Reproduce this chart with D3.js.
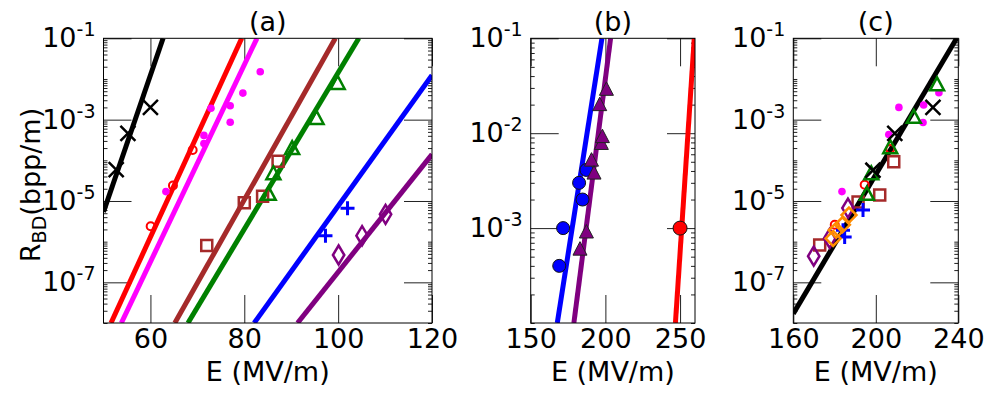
<!DOCTYPE html>
<html>
<head>
<meta charset="utf-8">
<script src="https://cdn.jsdelivr.net/npm/d3@7"></script>
<style>
  body { margin: 0; background: #fff; }
  svg text { font-family: "DejaVu Sans", sans-serif; fill: #000; }
</style>
</head>
<body>
<div id="chart"></div>
<script>
// ---- tick values ----
const aXTicks = [60, 80, 100, 120];
const bXTicks = [150, 200, 250];
const cXTicks = [160, 200, 240];
const aYTicks = [1e-1, 1e-3, 1e-5, 1e-7];
const bYTicks = [1e-1, 1e-2, 1e-3];
const cYTicks = [1e-1, 1e-3, 1e-5, 1e-7];

// ---- panel (a): fits (end points) and measurements [E, R] ----
const aFitBlack = [[50, 5.4e-6], [62.7, 1e-1]];
const aFitRed = [[51.6, 1e-8], [79.45, 1e-1]];
const aFitMagenta = [[53.8, 1e-8], [82.7, 1e-1]];
const aFitBrown = [[65.2, 1e-8], [99.4, 1e-1]];
const aFitGreen = [[68.0, 1e-8], [104.4, 1e-1]];
const aFitBlue = [[82.1, 1e-8], [120, 1.23e-2]];
const aFitPurple = [[91.35, 1e-8], [120, 1.4e-4]];

const aBlackCross = [[52.7, 5.9e-5], [55.2, 4.6e-4], [60, 2.0e-3]];
const aRedCircle = [[60.05, 2.4e-6], [64.8, 2.4e-5], [69, 1.8e-4]];
const aMagentaDot = [[63.3, 1.7e-5], [71.4, 4.1e-4], [71.4, 2.6e-4], [72.9, 1.9e-3],
                     [77, 2.2e-3], [77, 8.6e-4], [79.7, 4.5e-3], [83.4, 1.5e-2]];
const aBrownSquare = [[72, 8.1e-7], [80, 9.1e-6], [83.9, 1.3e-5], [87.2, 9.5e-5]];
const aGreenTri = [[85.2, 1.5e-5], [86.2, 4.8e-5], [90.2, 2.0e-4], [95.4, 1.1e-3], [99.9, 8e-3]];
const aBluePlus = [[97.3, 1.4e-6], [102, 6.6e-6]];
const aPurpleDiamond = [[100.1, 4.7e-7], [105.1, 1.4e-6], [110.1, 4.7e-6]];

// ---- panel (b) ----
const bFitBlue = [[167.8, 1e-4], [197.7, 1e-1]];
const bFitPurple = [[178.9, 1e-4], [203.5, 1e-1]];
const bFitRed = [[246.9, 1e-4], [259.5, 1e-1]];

const bBlueDot = [[169.1, 4e-4], [171.7, 1e-3], [182.4, 3e-3], [184.7, 2e-3], [187.3, 4.1e-3]];
const bPurpleTri = [[183, 6e-4], [187.3, 9.1e-4], [190.7, 5.2e-3], [192.4, 3.8e-3],
                    [197.3, 7.8e-3], [198, 9.2e-3], [196.2, 2e-2], [200.7, 2.9e-2]];
const bRedDot = [[250, 1e-3]];

// ---- panel (c) ----
const cFitBlack = [[160, 1.7e-8], [239.2, 1e-1]];

const cBlackCross = [[227.7, 2.0e-3], [209.2, 4.6e-4], [198.6, 5.7e-5]];
const cGreenTri = [[229.7, 7.4e-3], [218.4, 1.17e-3], [207, 2.1e-4], [197.8, 4.8e-5], [195.7, 1.5e-5]];
const cMagentaDot = [[230.6, 4.6e-3], [211.2, 2.0e-3], [223.2, 2.3e-3], [222.9, 8.5e-4],
                     [206.3, 4.3e-4], [183.6, 1.7e-5]];
const cRedCircle = [[207, 1.9e-4], [194.6, 2.5e-5], [180.1, 2.6e-6]];
const cBrownSquare = [[208.7, 9.2e-5], [201.9, 1.4e-5], [191.4, 9.5e-6], [172.8, 8.3e-7]];
const cBluePlus = [[193.8, 6e-6], [184.1, 1.9e-6], [184.9, 1.3e-6]];
const cPurpleDiamond = [[186.5, 6.7e-6], [177.6, 1.2e-6], [169.9, 4.4e-7]];
const cOrangeDiamond = [[187, 4.5e-6], [183.8, 2.6e-6], [180.8, 1.9e-6], [179.3, 1.2e-6]];

// ---- layout ----
const W = 997, H = 399;
const plotTop = 38.3, plotBottom = 323;
const FONT = 27, SUP = 19;

const panels = [
  { id: "a", title: "(a)", left: 103.5, right: 432, xDomain: [50, 120], yDomain: [1e-8, 1e-1],
    xTicks: aXTicks, yTicks: aYTicks,
    fits: [[aFitBlack, "#000"], [aFitRed, "#ff0000"], [aFitMagenta, "#ff00ff"], [aFitBrown, "#a52a2a"],
           [aFitGreen, "#008000"], [aFitBlue, "#0000ff"], [aFitPurple, "#800080"]],
    marks: [
      { data: aBlackCross, shape: "x", color: "#000" },
      { data: aRedCircle, shape: "o", color: "#ff0000" },
      { data: aMagentaDot, shape: "dot", color: "#ff00ff" },
      { data: aBrownSquare, shape: "s", color: "#a52a2a" },
      { data: aGreenTri, shape: "^", color: "#008000" },
      { data: aBluePlus, shape: "+", color: "#0000ff" },
      { data: aPurpleDiamond, shape: "d", color: "#800080" }
    ] },
  { id: "b", title: "(b)", left: 530.7, right: 695, xDomain: [150, 260], yDomain: [1e-4, 1e-1],
    xTicks: bXTicks, yTicks: bYTicks,
    fits: [[bFitBlue, "#0000ff"], [bFitPurple, "#800080"], [bFitRed, "#ff0000"]],
    marks: [
      { data: bBlueDot, shape: "bigdot", color: "#0000ff" },
      { data: bPurpleTri, shape: "^f", color: "#800080" },
      { data: bRedDot, shape: "bigdot", color: "#ff0000", r: 7 }
    ] },
  { id: "c", title: "(c)", left: 793.3, right: 958.3, xDomain: [160, 240], yDomain: [1e-8, 1e-1],
    xTicks: cXTicks, yTicks: cYTicks,
    fits: [[cFitBlack, "#000"]],
    marks: [
      { data: cMagentaDot, shape: "dot", color: "#ff00ff" },
      { data: cBrownSquare, shape: "s", color: "#a52a2a" },
      { data: cRedCircle, shape: "o", color: "#ff0000" },
      { data: cPurpleDiamond, shape: "d", color: "#800080" },
      { data: cBluePlus, shape: "+", color: "#0000ff" },
      { data: cOrangeDiamond, shape: "D", color: "#ff8c00" },
      { data: cGreenTri, shape: "^", color: "#008000" },
      { data: cBlackCross, shape: "x", color: "#000" }
    ] }
];

const svg = d3.select("#chart").append("svg")
  .attr("width", W)
  .attr("height", H);

// marker outlines centred on 0,0
function markerPath(shape) {
  switch (shape) {
    case "x": return "M-7.5,-7.5L7.5,7.5M-7.5,7.5L7.5,-7.5";
    case "+": return "M-7,0H7M0,-7V7";
    case "s": return "M-5.5,-5.5H5.5V5.5H-5.5Z";
    case "^": return "M0,-7L7,6L-7,6Z";
    case "^f": return "M0,-7.5L7,6L-7,6Z";
    case "d": return "M0,-9.5L5.7,0L0,9.5L-5.7,0Z";
    case "D": return "M0,-7.5L7.5,0L0,7.5L-7.5,0Z";
  }
}

function powLabel(sel) {
  sel.each(function (d) {
    const t = d3.select(this).text(null);
    t.append("tspan").text("10");
    t.append("tspan").attr("dy", -11).attr("font-size", SUP)
      .text("-" + Math.abs(Math.round(Math.log10(d))));
  });
}

function minorTicks(domain, majors) {
  const out = [];
  const lo = Math.floor(Math.log10(domain[0])), hi = Math.ceil(Math.log10(domain[1]));
  for (let k = lo; k < hi; k++) {
    for (let m = 1; m < 10; m++) {
      const v = m * Math.pow(10, k);
      if (v < domain[0] * 0.999 || v > domain[1] * 1.001) continue;
      if (majors.some(t => Math.abs(t - v) / v < 1e-6)) continue;
      out.push(v);
    }
  }
  return out;
}

panels.forEach(p => {
  const x = d3.scaleLinear().domain(p.xDomain).range([p.left, p.right]);
  const y = d3.scaleLog().domain(p.yDomain).range([plotBottom, plotTop]);
  const g = svg.append("g").attr("class", "panel-" + p.id);

  g.append("clipPath").attr("id", "clip-" + p.id)
    .append("rect")
    .attr("x", p.left).attr("y", plotTop)
    .attr("width", p.right - p.left).attr("height", plotBottom - plotTop);

  // ticks: long inward majors on all four sides, short minors on y
  const minors = minorTicks(p.yDomain, p.yTicks);
  const axes = [
    g.append("g").attr("transform", `translate(0,${plotBottom})`)
      .call(d3.axisBottom(x).tickValues(p.xTicks).tickSizeInner(-28).tickSizeOuter(0).tickPadding(6)),
    g.append("g").attr("transform", `translate(0,${plotTop})`)
      .call(d3.axisTop(x).tickValues(p.xTicks).tickSizeInner(-28).tickSizeOuter(0).tickFormat("")),
    g.append("g").attr("transform", `translate(${p.left},0)`)
      .call(d3.axisLeft(y).tickValues(p.yTicks).tickSizeInner(-28).tickSizeOuter(0).tickPadding(8)),
    g.append("g").attr("transform", `translate(${p.right},0)`)
      .call(d3.axisRight(y).tickValues(p.yTicks).tickSizeInner(-28).tickSizeOuter(0).tickFormat("")),
    g.append("g").attr("transform", `translate(${p.left},0)`)
      .call(d3.axisLeft(y).tickValues(minors).tickSizeInner(-4).tickSizeOuter(0).tickFormat("")),
    g.append("g").attr("transform", `translate(${p.right},0)`)
      .call(d3.axisRight(y).tickValues(minors).tickSizeInner(-4).tickSizeOuter(0).tickFormat(""))
  ];
  axes.forEach(a => {
    a.select(".domain").remove();
    a.selectAll(".tick line").attr("stroke", "#222").attr("stroke-width", 1);
    a.selectAll("text").attr("font-size", FONT).attr("font-family", "DejaVu Sans").attr("fill", "#000");
  });
  axes[2].selectAll(".tick text").call(powLabel);

  // fitted lines
  const line = d3.line().x(d => x(d[0])).y(d => y(d[1]));
  g.append("g").attr("clip-path", `url(#clip-${p.id})`)
    .selectAll("path")
    .data(p.fits)
    .join("path")
    .attr("d", d => line(d[0]))
    .attr("fill", "none")
    .attr("stroke", d => d[1])
    .attr("stroke-width", 5);

  // measurements
  p.marks.forEach(s => {
    const mg = g.append("g");
    const pts = mg.selectAll("g").data(s.data).join("g")
      .attr("transform", d => `translate(${x(d[0])},${y(d[1])})`);
    if (s.shape === "dot") {
      pts.append("circle").attr("r", 3.8).attr("fill", s.color);
    } else if (s.shape === "o") {
      pts.append("circle").attr("r", 4).attr("fill", "none")
        .attr("stroke", s.color).attr("stroke-width", 2);
    } else if (s.shape === "bigdot") {
      pts.append("circle").attr("r", s.r || 6.5).attr("fill", s.color)
        .attr("stroke", "#111").attr("stroke-width", 1);
    } else if (s.shape === "^f") {
      pts.append("path").attr("d", markerPath(s.shape)).attr("fill", s.color)
        .attr("stroke", "#222").attr("stroke-width", 1);
    } else {
      pts.append("path").attr("d", markerPath(s.shape)).attr("fill", "none")
        .attr("stroke", s.color).attr("stroke-width", s.shape === "+" ? 3 : 2.5);
    }
  });

  // frame
  g.append("rect")
    .attr("x", p.left).attr("y", plotTop)
    .attr("width", p.right - p.left).attr("height", plotBottom - plotTop)
    .attr("fill", "none").attr("stroke", "#000").attr("stroke-width", 1);

  // title and x label
  g.append("text")
    .attr("x", (p.left + p.right) / 2).attr("y", 31)
    .attr("text-anchor", "middle").attr("font-size", FONT)
    .text(p.title);
  g.append("text")
    .attr("x", (p.left + p.right) / 2).attr("y", 381)
    .attr("text-anchor", "middle").attr("font-size", FONT)
    .text("E (MV/m)");
});

// y label, panel (a) only
const yl = svg.append("text")
  .attr("transform", "translate(40,185) rotate(-90)")
  .attr("text-anchor", "middle")
  .attr("font-size", FONT);
yl.append("tspan").text("R");
yl.append("tspan").attr("dy", 6).attr("font-size", SUP).text("BD");
yl.append("tspan").attr("dy", -6).text("(bpp/m)");
</script>
</body>
</html>
